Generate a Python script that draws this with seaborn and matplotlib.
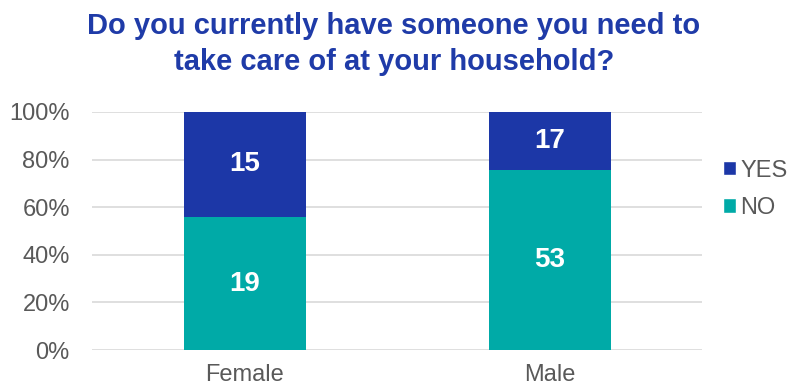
import matplotlib
matplotlib.use("Agg")
import matplotlib.pyplot as plt
import seaborn as sns
import pandas as pd
from matplotlib.patches import Patch

# Survey answers by gender (counts)
genders = ["Female", "Male"]
no_counts = [19, 53]
yes_counts = [15, 17]
y_ticks = [0, 20, 40, 60, 80, 100]
y_tick_labels = ["0%", "20%", "40%", "60%", "80%", "100%"]

YES_COLOR = "#1C37A7"
NO_COLOR = "#00AAA7"
TITLE_COLOR = "#1F3BA8"
TEXT_GRAY = "#595959"

totals = [n + y for n, y in zip(no_counts, yes_counts)]
df = pd.DataFrame({
    "gender": genders,
    "no_pct": [n / t * 100 for n, t in zip(no_counts, totals)],
    "total_pct": [100.0 for _ in totals],
    "no": no_counts,
    "yes": yes_counts,
})

sns.set_theme(style="white")
plt.rcParams["font.family"] = ["Liberation Sans", "DejaVu Sans"]

fig = plt.figure(figsize=(7.88, 3.87), dpi=100)
ax = fig.add_axes([0.1168, 0.0956, 0.7741, 0.615])

# Full-height bars carry the YES share, NO share drawn over them
sns.barplot(data=df, x="gender", y="total_pct", color=YES_COLOR, width=0.4,
            saturation=1, ax=ax, zorder=3, edgecolor="none")
sns.barplot(data=df, x="gender", y="no_pct", color=NO_COLOR, width=0.4,
            saturation=1, ax=ax, zorder=4, edgecolor="none")

for i, row in df.iterrows():
    ax.text(i, row["no_pct"] / 2, f"{row['no']}", ha="center", va="center",
            color="white", fontsize=20, fontweight="bold", zorder=5)
    ax.text(i, row["no_pct"] + (100 - row["no_pct"]) / 2, f"{row['yes']}",
            ha="center", va="center", color="white", fontsize=20,
            fontweight="bold", zorder=5)

ax.set_ylim(0, 100)
ax.set_xlim(-0.5, 1.5)
ax.set_yticks(y_ticks)
ax.set_yticklabels(y_tick_labels)
ax.yaxis.grid(True, color="#D9D9D9", linewidth=1.2, zorder=0)
ax.set_axisbelow(True)
for s in ax.spines.values():
    s.set_visible(False)
ax.set_xlabel("")
ax.set_ylabel("")
ax.tick_params(axis="y", length=0, pad=16, labelsize=17, labelcolor=TEXT_GRAY)
ax.tick_params(axis="x", length=0, pad=10, labelsize=17, labelcolor=TEXT_GRAY)

handles = [Patch(facecolor=YES_COLOR, label="YES"),
           Patch(facecolor=NO_COLOR, label="NO")]
fig.legend(handles=handles, loc="upper left", bbox_to_anchor=(0.905, 0.612),
           frameon=False, fontsize=17, handlelength=0.55, handleheight=0.55,
           handletextpad=0.2, labelspacing=0.65, labelcolor=TEXT_GRAY,
           borderaxespad=0)

fig.text(0.5, 0.968, "Do you currently have someone you need to\ntake care of at your household?",
         ha="center", va="top", fontsize=21, fontweight="bold",
         color=TITLE_COLOR, linespacing=1.33)

fig.savefig("out.png", dpi=100)
